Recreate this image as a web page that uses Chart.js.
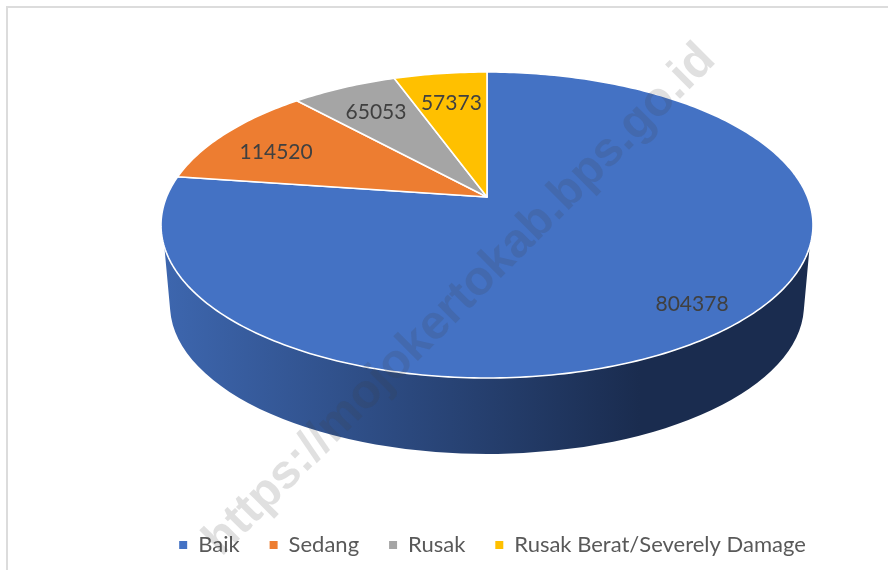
<!DOCTYPE html>
<html>
<head>
<meta charset="utf-8">
<style>html,body{margin:0;padding:0;background:#fff}canvas{display:block}</style>
<script src="https://cdn.jsdelivr.net/npm/chart.js@4"></script>
</head>
<body>
<canvas id="c" width="888" height="570"></canvas>
<script>
const categories = ['Baik', 'Sedang', 'Rusak', 'Rusak Berat/Severely Damage'];
const values = [804378, 114520, 65053, 57373];
const colors = ['#4472C4', '#ED7D31', '#A5A5A5', '#FFC000'];
const watermark = 'https://mojokertokab.bps.go.id';

// Perspective view of the pie's top face
const cx = 487, cy = 225, rx = 326, ry = 153, apexLift = 28;
const k = apexLift / ry, A = rx * Math.sqrt(1 - k * k);
function project(r, theta) {
  const u = r * Math.sin(theta), v = r * Math.cos(theta), w = 1 + k * v;
  return { x: cx + A * u / w, y: cy - (ry * v + apexLift) / w };
}
function drawSlice(ctx) {
  const a0 = this.startAngle + Math.PI / 2, a1 = this.endAngle + Math.PI / 2;
  const steps = Math.max(8, Math.ceil((a1 - a0) * 60));
  const o = project(0, 0);
  ctx.save();
  ctx.beginPath();
  ctx.moveTo(o.x, o.y);
  for (let i = 0; i <= steps; i++) {
    const p = project(1, a0 + (a1 - a0) * i / steps);
    ctx.lineTo(p.x, p.y);
  }
  ctx.closePath();
  ctx.fillStyle = this.options.backgroundColor;
  ctx.fill();
  ctx.strokeStyle = '#ffffff';
  ctx.lineWidth = 1.6;
  ctx.lineJoin = 'round';
  ctx.stroke();
  ctx.restore();
}
const labelRadius = [0.86, 0.795, 0.75, 0.73];
const labelNudgeY = [-2, 7, 0, 0];

const pie3d = {
  id: 'pie3d',
  beforeDraw(chart) {
    const ctx = chart.ctx;
    ctx.save();
    ctx.fillStyle = '#fff';
    ctx.fillRect(0, 0, 888, 570);
    ctx.fillStyle = '#dcdcdc';
    ctx.fillRect(6, 6, 882, 2);
    ctx.fillRect(6, 6, 2, 564);
    ctx.restore();
  },
  beforeDatasetDraw(chart) {
    const ctx = chart.ctx;
    // side wall
    const cy2 = 305, rx2 = 317, ry2 = 149;
    const t0 = Math.asin(22 / ry), t1 = Math.asin(5 / ry2);
    const g = ctx.createLinearGradient(165, 0, 640, 0);
    g.addColorStop(0, '#3d66ae');
    g.addColorStop(1, '#1a2c4f');
    ctx.save();
    ctx.beginPath();
    ctx.ellipse(cx, cy, rx, ry, 0, t0, Math.PI - t0);
    ctx.ellipse(cx, cy2, rx2, ry2, 0, Math.PI - t1, t1, true);
    ctx.closePath();
    ctx.fillStyle = g;
    ctx.fill();
    ctx.restore();
    for (const el of chart.getDatasetMeta(0).data) el.draw = drawSlice;
  },
  afterDatasetsDraw(chart) {
    const ctx = chart.ctx;
    ctx.save();
    ctx.translate(460, 300);
    ctx.rotate(-Math.PI / 4);
    ctx.font = 'bold 48px "Liberation Sans"';
    ctx.textAlign = 'center';
    ctx.textBaseline = 'middle';
    ctx.fillStyle = 'rgba(60,60,60,0.16)';
    ctx.fillText(watermark, 0, 0);
    ctx.restore();
    ctx.save();
    ctx.font = '21px Lato';
    ctx.fillStyle = '#404040';
    ctx.textAlign = 'center';
    ctx.textBaseline = 'middle';
    chart.getDatasetMeta(0).data.forEach((el, i) => {
      const mid = (el.startAngle + el.endAngle) / 2 + Math.PI / 2;
      const p = project(labelRadius[i], mid);
      ctx.fillText(String(values[i]), p.x, p.y + labelNudgeY[i]);
    });
    ctx.restore();
  }
};

new Chart(document.getElementById('c'), {
  type: 'pie',
  data: {
    labels: categories,
    datasets: [{ data: values, backgroundColor: colors, borderWidth: 0 }]
  },
  options: {
    responsive: false,
    animation: false,
    layout: { padding: { left: 97, bottom: 4 } },
    plugins: {
      tooltip: { enabled: false },
      legend: {
        position: 'bottom',
        labels: {
          boxWidth: 8,
          boxHeight: 8,
          padding: 30,
          color: '#595959',
          font: { family: 'Lato', size: 22 }
        }
      }
    }
  },
  plugins: [pie3d]
});
</script>
</body>
</html>
